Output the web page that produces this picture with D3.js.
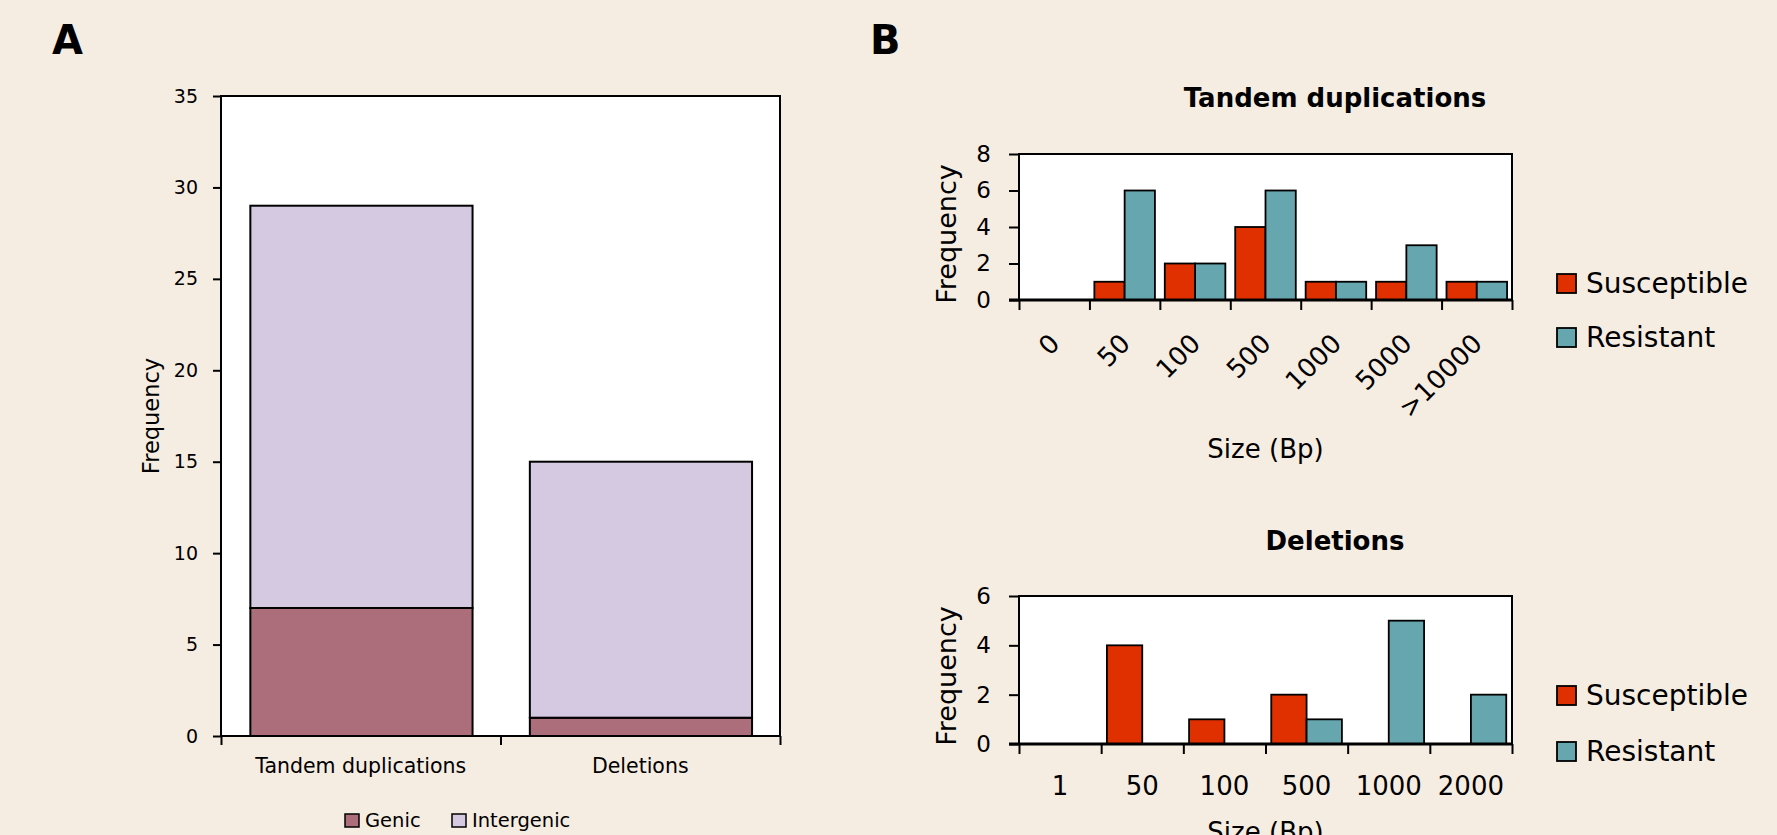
<!DOCTYPE html>
<html>
<head>
<meta charset="utf-8">
<script src="https://cdn.jsdelivr.net/npm/d3@7"></script>
<style>
  body { margin: 0; background: #f5ede2; }
  svg { display: block; font-family: "DejaVu Sans", sans-serif; }
</style>
</head>
<body>
<svg id="chart"></svg>
<script>
var W = 1777, H = 835;

// panel A data
var catsA = ["Tandem duplications", "Deletions"];
var genic = [7, 1];
var intergenic = [22, 14];
var yTicksA = [0, 5, 10, 15, 20, 25, 30, 35];

// panel B data
var tdSizes = ["0", "50", "100", "500", "1000", "5000", ">10000"];
var tdSusceptible = [0, 1, 2, 4, 1, 1, 1];
var tdResistant = [0, 6, 2, 6, 1, 3, 1];
var yTicksTD = [0, 2, 4, 6, 8];

var delSizes = ["1", "50", "100", "500", "1000", "2000"];
var delSusceptible = [0, 4, 1, 2, 0, 0];
var delResistant = [0, 0, 0, 1, 5, 2];
var yTicksDel = [0, 2, 4, 6];

var colGenic = "#ad6e7c", colInter = "#d4c9e1";
var colSus = "#e03000", colRes = "#66a6af";

var svg = d3.select("#chart").attr("width", W).attr("height", H);
svg.append("rect").attr("width", W).attr("height", H).attr("fill", "#f5ede2");

// panel letters
svg.append("text").attr("x", 52).attr("y", 54).attr("font-size", 40)
  .attr("font-weight", "bold").text("A");
svg.append("text").attr("x", 870).attr("y", 54).attr("font-size", 40)
  .attr("font-weight", "bold").text("B");

// ---------- panel A ----------
var a = { l: 221, r: 780, t: 96, b: 736 };
var xA = d3.scaleBand().domain(catsA).range([a.l, a.r]);
var yA = d3.scaleLinear().domain([0, 35]).range([a.b, a.t]);

var gA = svg.append("g");
gA.append("rect").attr("x", a.l).attr("y", a.t)
  .attr("width", a.r - a.l).attr("height", a.b - a.t).attr("fill", "#fff");

var rowsA = catsA.map(function(c, i) { return { cat: c, genic: genic[i], intergenic: intergenic[i] }; });
var stackA = d3.stack().keys(["genic", "intergenic"])(rowsA);
var colA = { genic: colGenic, intergenic: colInter };

gA.selectAll("g.layer").data(stackA).enter().append("g")
  .attr("fill", function(d) { return colA[d.key]; })
  .selectAll("rect").data(function(d) { return d; }).enter().append("rect")
  .attr("x", function(d) { return xA(d.data.cat) + xA.bandwidth() * 0.105; })
  .attr("width", xA.bandwidth() * 0.795)
  .attr("y", function(d) { return yA(d[1]); })
  .attr("height", function(d) { return yA(d[0]) - yA(d[1]); })
  .attr("stroke", "#000").attr("stroke-width", 2);

gA.append("rect").attr("x", a.l).attr("y", a.t)
  .attr("width", a.r - a.l).attr("height", a.b - a.t)
  .attr("fill", "none").attr("stroke", "#000").attr("stroke-width", 2);

var yAxA = gA.append("g").attr("transform", "translate(" + a.l + ",0)")
  .call(d3.axisLeft(yA).tickValues(yTicksA).tickFormat(d3.format("d")).tickSize(8).tickPadding(15));
yAxA.select(".domain").remove();
yAxA.selectAll("line").attr("stroke-width", 2);
yAxA.selectAll("text").attr("font-size", 19).attr("font-family", "DejaVu Sans");

var edgeA = d3.scaleLinear().domain([0, catsA.length]).range([a.l, a.r]);
var xAxA = gA.append("g").attr("transform", "translate(0," + a.b + ")")
  .call(d3.axisBottom(edgeA).tickValues(d3.range(catsA.length + 1)).tickFormat("").tickSize(9));
xAxA.select(".domain").remove();
xAxA.selectAll("line").attr("stroke-width", 2);

gA.selectAll("text.cat").data(catsA).enter().append("text")
  .attr("x", function(d) { return xA(d) + xA.bandwidth() / 2; })
  .attr("y", 773).attr("text-anchor", "middle").attr("font-size", 20.5)
  .text(function(d) { return d; });

gA.append("text")
  .attr("transform", "translate(159,416) rotate(-90)")
  .attr("text-anchor", "middle").attr("font-size", 22.5).text("Frequency");

var legA = [{ k: "Genic", c: colGenic, x: 345 }, { k: "Intergenic", c: colInter, x: 452 }];
var lA = gA.selectAll("g.leg").data(legA).enter().append("g")
  .attr("transform", function(d) { return "translate(" + d.x + ",814)"; });
lA.append("rect").attr("width", 14).attr("height", 13)
  .attr("fill", function(d) { return d.c; }).attr("stroke", "#000").attr("stroke-width", 1.5);
lA.append("text").attr("x", 20).attr("y", 13).attr("font-size", 19.5)
  .text(function(d) { return d.k; });

// ---------- panel B ----------
function groupedChart(opt) {
  var g = svg.append("g");
  var x = d3.scaleBand().domain(opt.cats).range([opt.l, opt.r]);
  var y = d3.scaleLinear().domain([0, opt.max]).range([opt.b, opt.t]);
  var bw = x.bandwidth();

  g.append("rect").attr("x", opt.l).attr("y", opt.t)
    .attr("width", opt.r - opt.l).attr("height", opt.b - opt.t).attr("fill", "#fff");

  var series = [
    { vals: opt.sus, c: colSus, off: 0.07 },
    { vals: opt.res, c: colRes, off: 0.5 }
  ];
  series.forEach(function(s) {
    var data = opt.cats.map(function(c, i) { return { cat: c, v: s.vals[i] }; })
      .filter(function(d) { return d.v > 0; });
    g.selectAll(null).data(data).enter().append("rect")
      .attr("x", function(d) { return x(d.cat) + bw * s.off; })
      .attr("width", bw * 0.43)
      .attr("y", function(d) { return y(d.v); })
      .attr("height", function(d) { return y(0) - y(d.v); })
      .attr("fill", s.c).attr("stroke", "#000").attr("stroke-width", 1.8);
  });

  // frame
  g.append("path")
    .attr("d", "M" + opt.l + "," + opt.b + "V" + opt.t + "H" + opt.r + "V" + opt.b)
    .attr("fill", "none").attr("stroke", "#000").attr("stroke-width", 2);

  var yAx = g.append("g").attr("transform", "translate(" + opt.l + ",0)")
    .call(d3.axisLeft(y).tickValues(opt.ticks).tickFormat(d3.format("d")).tickSize(10).tickPadding(18));
  yAx.select(".domain").remove();
  yAx.selectAll("line").attr("stroke-width", 2);
  yAx.selectAll("text").attr("font-size", 23).attr("font-family", "DejaVu Sans");

  var edge = d3.scaleLinear().domain([0, opt.cats.length]).range([opt.l, opt.r]);
  var xAx = g.append("g").attr("transform", "translate(0," + opt.b + ")")
    .call(d3.axisBottom(edge).tickValues(d3.range(opt.cats.length + 1)).tickFormat("").tickSize(10));
  xAx.select(".domain").remove();
  xAx.selectAll("line").attr("stroke-width", 2);
  g.append("line").attr("x1", opt.l - 10).attr("x2", opt.r)
    .attr("y1", opt.b).attr("y2", opt.b).attr("stroke", "#000").attr("stroke-width", 3);

  var lab = g.selectAll("text.xl").data(opt.cats).enter().append("text")
    .attr("font-size", 26).text(function(d) { return d; });
  if (opt.rotate) {
    lab.attr("text-anchor", "end")
      .attr("transform", function(d) {
        return "translate(" + (x(d) + bw / 2 + 7) + "," + (opt.b + 45) + ") rotate(-45)";
      });
  } else {
    lab.attr("text-anchor", "middle")
      .attr("x", function(d) { return x(d) + bw / 2; })
      .attr("y", opt.b + 51);
  }

  g.append("text").attr("x", 1335).attr("y", opt.titleY).attr("text-anchor", "middle")
    .attr("font-size", 26).attr("font-weight", "bold").text(opt.title);

  g.append("text").attr("x", (opt.l + opt.r) / 2).attr("y", opt.sizeY)
    .attr("text-anchor", "middle").attr("font-size", 26).text("Size (Bp)");

  g.append("text")
    .attr("transform", "translate(956," + opt.freqY + ") rotate(-90)")
    .attr("text-anchor", "middle").attr("font-size", 27).text("Frequency");

  var leg = [{ k: "Susceptible", c: colSus, y: opt.legY[0] }, { k: "Resistant", c: colRes, y: opt.legY[1] }];
  var l = g.selectAll("g.leg").data(leg).enter().append("g")
    .attr("transform", function(d) { return "translate(1557," + d.y + ")"; });
  l.append("rect").attr("width", 19).attr("height", 19)
    .attr("fill", function(d) { return d.c; }).attr("stroke", "#000").attr("stroke-width", 1.8);
  l.append("text").attr("x", 29).attr("y", 19).attr("font-size", 28)
    .text(function(d) { return d.k; });
}

groupedChart({
  cats: tdSizes, sus: tdSusceptible, res: tdResistant, ticks: yTicksTD, max: 8,
  l: 1019, r: 1512, t: 154, b: 300, rotate: true,
  title: "Tandem duplications", titleY: 107, sizeY: 458, freqY: 234, legY: [274, 328]
});

groupedChart({
  cats: delSizes, sus: delSusceptible, res: delResistant, ticks: yTicksDel, max: 6,
  l: 1019, r: 1512, t: 596, b: 744, rotate: false,
  title: "Deletions", titleY: 550, sizeY: 841, freqY: 676, legY: [686, 742]
});
</script>
</body>
</html>
